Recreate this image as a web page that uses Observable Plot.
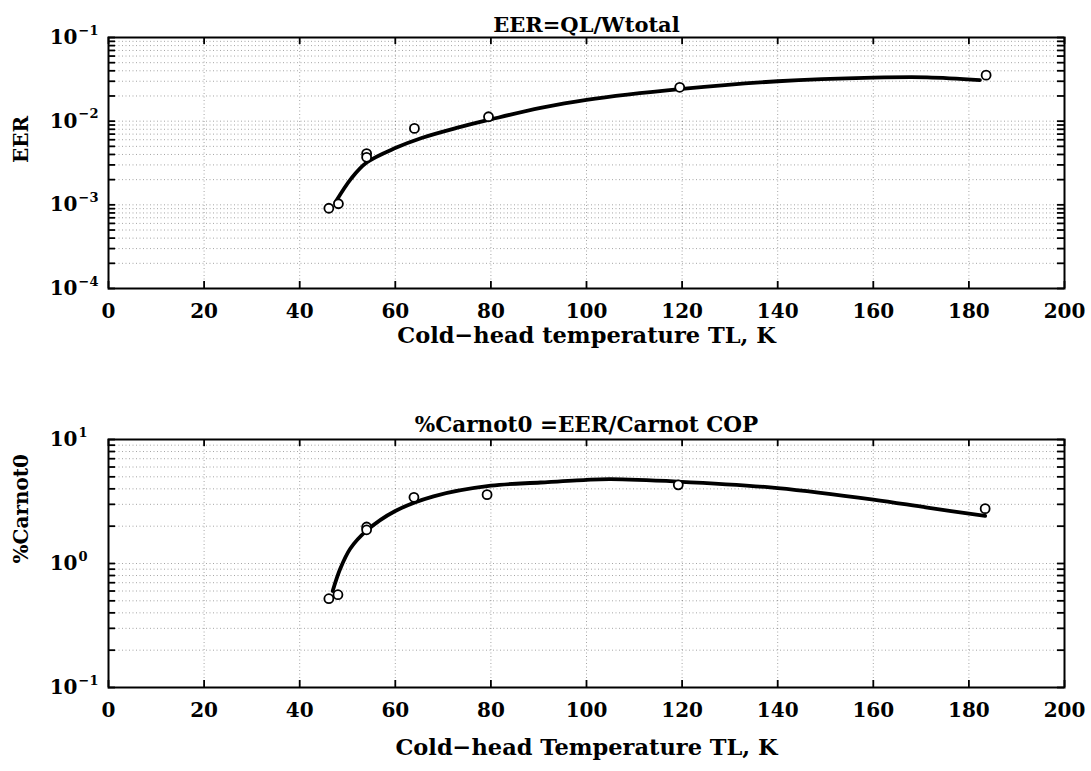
<!DOCTYPE html>
<html>
<head>
<meta charset="utf-8">
<script src="https://cdn.jsdelivr.net/npm/d3@7"></script>
<script src="https://cdn.jsdelivr.net/npm/@observablehq/plot@0.6"></script>
<style>
  html, body { margin: 0; padding: 0; background: white; }
  #chart svg { display: block; }
</style>
</head>
<body>
<div id="chart"></div>
<script>
// ---- Data ----
const xTicks = [0, 20, 40, 60, 80, 100, 120, 140, 160, 180, 200];

// Top panel: EER = QL/Wtotal
const eerTitle = "EER=QL/Wtotal";
const eerYLabel = "EER";
const eerXLabel = "Cold\u2212head temperature TL, K";
const eerYTicks = [1e-4, 1e-3, 1e-2, 1e-1];
const eerYTickExp = ["\u22124", "\u22123", "\u22122", "\u22121"];
const eerPtsT = [46.1, 48.1, 54.0, 54.0, 64.0, 79.5, 119.5, 183.6];
const eerPtsV = [0.00091, 0.00103, 0.0041, 0.0037, 0.0082, 0.0113, 0.0254, 0.0355];
const eerFitT = [47.5, 50.8, 54.0, 60.1, 65.5, 72.8, 80.0, 90.4, 100, 120, 140, 160, 171.3, 182.3];
const eerFitV = [0.00108, 0.00207, 0.0032, 0.0048, 0.0063, 0.0083, 0.0105, 0.0144, 0.0180, 0.0243, 0.0300, 0.0331, 0.0334, 0.0310];

// Bottom panel: %Carnot0 = EER/Carnot COP
const carTitle = "%Carnot0 =EER/Carnot COP";
const carYLabel = "%Carnot0";
const carXLabel = "Cold\u2212head Temperature TL, K";
const carYTicks = [1e-1, 1, 10];
const carYTickExp = ["\u22121", "0", "1"];
const carPtsT = [46.1, 48.0, 54.0, 54.0, 63.9, 79.2, 119.2, 183.4];
const carPtsV = [0.52, 0.56, 1.97, 1.87, 3.42, 3.59, 4.31, 2.77];
const carFitT = [46.9, 48.5, 50.6, 54.0, 60.0, 68.0, 80.0, 90.4, 100, 105, 119, 140, 160, 171.3, 183.4];
const carFitV = [0.60, 0.91, 1.32, 1.84, 2.65, 3.48, 4.24, 4.50, 4.73, 4.79, 4.58, 4.06, 3.28, 2.82, 2.42];

// ---- Helpers ----
function logMinorTicks(lo, hi) {
  const out = [];
  for (let d = lo; d < hi * 0.999; d *= 10) {
    for (let k = 1; k <= 9; k++) out.push(k * d);
  }
  out.push(hi);
  return out;
}

function panel(cfg) {
  const W = 1091;
  const mL = 108, mR = 27;
  const plotW = W - mL - mR;
  const plotH = cfg.height - cfg.mT - cfg.mB;
  const pts = cfg.ptsT.map((t, i) => ({t, v: cfg.ptsV[i]}));
  const fit = cfg.fitT.map((t, i) => ({t, v: cfg.fitV[i]}));
  const minor = logMinorTicks(cfg.yDomain[0], cfg.yDomain[1]);
  const yt = cfg.yTicks.map((v, i) => ({v, e: cfg.yTickExp[i]}));
  const grid = {stroke: "#000", strokeOpacity: 0.45, strokeWidth: 0.8, strokeDasharray: "1,2.5"};
  const tickLen = 7;
  const font = {fontFamily: "'DejaVu Serif', serif", fontWeight: "bold", fill: "black"};
  return Plot.plot({
    width: W,
    height: cfg.height,
    marginLeft: mL,
    marginRight: mR,
    marginTop: cfg.mT,
    marginBottom: cfg.mB,
    style: {fontFamily: "'DejaVu Serif', serif", fontSize: "20px", fontWeight: "bold", background: "white", color: "black"},
    x: {domain: [0, 200], axis: null},
    y: {type: "log", domain: cfg.yDomain, axis: null},
    marks: [
      // dotted grid
      Plot.ruleX(xTicks.slice(1, -1), {x: d => d, ...grid}),
      Plot.ruleY(minor.slice(1, -1), {y: d => d, ...grid}),
      // inward ticks on x (bottom and top)
      Plot.ruleX(xTicks, {x: d => d, stroke: "black", strokeWidth: 1.8, insetTop: plotH - tickLen}),
      Plot.ruleX(xTicks, {x: d => d, stroke: "black", strokeWidth: 1.8, insetBottom: plotH - tickLen}),
      // inward ticks on y (left and right)
      Plot.ruleY(minor, {y: d => d, stroke: "black", strokeWidth: 1.8, insetRight: plotW - tickLen}),
      Plot.ruleY(minor, {y: d => d, stroke: "black", strokeWidth: 1.8, insetLeft: plotW - tickLen}),
      Plot.frame({stroke: "black", strokeWidth: 2}),
      // x tick labels
      Plot.text(xTicks, {x: d => d, text: d => String(d), frameAnchor: "bottom", dy: 23,
        lineAnchor: "middle", fontSize: 20, ...font}),
      // y tick labels: base "10" with superscript exponent
      Plot.text(yt, {y: "v", text: () => "10", frameAnchor: "left", dx: -31, textAnchor: "end",
        lineAnchor: "middle", fontSize: 20, ...font}),
      Plot.text(yt, {y: "v", text: "e", frameAnchor: "left", dx: -30, dy: -7, textAnchor: "start",
        lineAnchor: "middle", fontSize: 13, ...font}),
      // fitted curve
      Plot.line(fit, {x: "t", y: "v", curve: "catmull-rom", stroke: "black", strokeWidth: 3.8}),
      // measured points
      Plot.dot(pts, {x: "t", y: "v", r: 4.5, fill: "white", stroke: "black", strokeWidth: 1.8}),
      // title
      Plot.text([cfg.title], {text: d => d, frameAnchor: "top", dy: -cfg.titleGap, lineAnchor: "bottom",
        fontSize: cfg.titleSize, ...font}),
      // x label
      Plot.text([cfg.xLabel], {text: d => d, frameAnchor: "bottom", dy: cfg.xLabelGap, lineAnchor: "middle",
        fontSize: 22.5, ...font}),
      // y label
      Plot.text([cfg.yLabel], {text: d => d, frameAnchor: "left", dx: -87, rotate: -90, lineAnchor: "middle",
        fontSize: 20, ...font})
    ]
  });
}

const chart = document.getElementById("chart");
chart.append(panel({
  height: 385, mT: 37, mB: 97, titleGap: 6, titleSize: 21, xLabelGap: 47,
  yDomain: [1e-4, 1e-1], yTicks: eerYTicks, yTickExp: eerYTickExp,
  ptsT: eerPtsT, ptsV: eerPtsV, fitT: eerFitT, fitV: eerFitV,
  title: eerTitle, xLabel: eerXLabel, yLabel: eerYLabel
}));
chart.append(panel({
  height: 386, mT: 54, mB: 84, titleGap: 8, titleSize: 21.5, xLabelGap: 60,
  yDomain: [1e-1, 10], yTicks: carYTicks, yTickExp: carYTickExp,
  ptsT: carPtsT, ptsV: carPtsV, fitT: carFitT, fitV: carFitV,
  title: carTitle, xLabel: carXLabel, yLabel: carYLabel
}));
</script>
</body>
</html>
